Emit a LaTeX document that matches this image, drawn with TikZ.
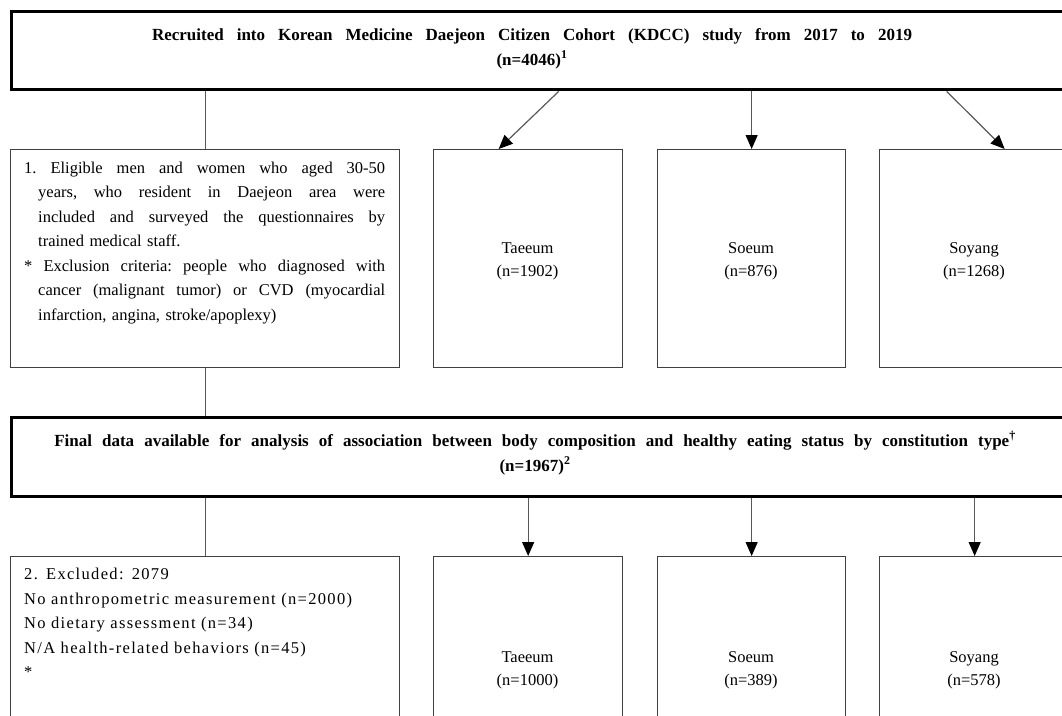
\documentclass[tikz,border=0pt]{standalone}
\usepackage{fontspec}
\setmainfont{Liberation Serif}
\usetikzlibrary{arrows.meta}
\newcommand{\jline}[2]{\makebox[#1][s]{\frenchspacing\spaceskip=0pt\xspaceskip=0pt #2}}
\begin{document}
\begin{tikzpicture}[x=1pt,y=-1pt,
  thickbox/.style={draw=black, line width=3.4pt, inner sep=0pt, anchor=north west},
  thinbox/.style={draw=black!75, line width=1.3pt, inner sep=0pt, anchor=north west, minimum height=218pt},
  conn/.style={draw=black!65, line width=1.2pt},
  arr/.style={conn, -{Triangle[length=14pt,width=12pt,color=black]}},
  hdr/.style={inner sep=0pt, anchor=north, align=center, font=\fontsize{17}{25}\selectfont\bfseries},
  btxt/.style={inner sep=0pt, anchor=north, align=center, font=\fontsize{16.5}{23}\selectfont},
  ltxt/.style={inner sep=0pt, anchor=north west, align=left, font=\fontsize{16.5}{24.5}\selectfont}
]
\useasboundingbox (0,0) rectangle (1062,715);
\clip (0,0) rectangle (1062,715);
\fill[white] (0,0) rectangle (1062,715);

% big boxes
\node[thickbox, minimum width=1090pt, minimum height=78pt] (top) at (10,10) {};
\node[thickbox, minimum width=1090pt, minimum height=79pt] (final) at (10,416) {};

% upper row
\node[thinbox, minimum width=389pt] (b1) at (10,149) {};
\node[thinbox, minimum width=189pt] (t1) at (433,149) {};
\node[thinbox, minimum width=188pt] (s1) at (657,149) {};
\node[thinbox, minimum width=190pt] (y1) at (879,149) {};

% lower row
\node[thinbox, minimum width=389pt] (b2) at (10,556) {};
\node[thinbox, minimum width=189pt] (t2) at (433,556) {};
\node[thinbox, minimum width=188pt] (s2) at (657,556) {};
\node[thinbox, minimum width=190pt] (y2) at (879,556) {};

% header texts
\node[hdr] (toptxt) at (532,22.5) {\strut\jline{760pt}{Recruited into Korean Medicine Daejeon Citizen Cohort (KDCC) study from 2017 to 2019}\\(n=4046)\textsuperscript{1}};
\node[hdr] (finaltxt) at (535,428.5) {\strut\jline{955pt}{Final data available for analysis of association between body composition and healthy eating status by constitution type}\textsuperscript{\textdagger}\\(n=1967)\textsuperscript{2}};

% box texts upper
\node[ltxt, text width=361pt] (b1txt) at (24,156) {%
\strut\jline{361pt}{1. Eligible men and women who aged 30-50}\\
\hspace*{14pt}\jline{347pt}{years, who resident in Daejeon area were}\\
\hspace*{14pt}\jline{347pt}{included and surveyed the questionnaires by}\\
\hspace*{14pt}trained medical staff.\\
\jline{361pt}{* Exclusion criteria: people who diagnosed with}\\
\hspace*{14pt}\jline{347pt}{cancer (malignant tumor) or CVD (myocardial}\\
\hspace*{14pt}infarction, angina, stroke/apoplexy)};
\node[btxt] (t1txt) at (527.5,236.9) {\strut Taeeum\\(n=1902)};
\node[btxt] (s1txt) at (751,236.9) {\strut Soeum\\(n=876)};
\node[btxt] (y1txt) at (974,236.9) {\strut Soyang\\(n=1268)};

% box texts lower
\node[ltxt, text width=370pt, font=\fontsize{16.5}{24.5}\selectfont\addfontfeature{LetterSpace=8}] (b2txt) at (24,562.4) {%
\strut 2. Excluded: 2079\\
No anthropometric measurement (n=2000)\\
No dietary assessment (n=34)\\
N/A health-related behaviors (n=45)\\
{*}};
\node[btxt] (t2txt) at (527.5,645.9) {\strut Taeeum\\(n=1000)};
\node[btxt] (s2txt) at (751,645.9) {\strut Soeum\\(n=389)};
\node[btxt] (y2txt) at (974,645.9) {\strut Soyang\\(n=578)};

% connectors upper
\draw[conn] (b1.north |- top.south) -- (b1.north);
\draw[arr] ([xshift=2pt]top.south) -- ([xshift=-29.5pt]t1.north);
\draw[arr] (s1.north |- top.south) -- (s1.north);
\draw[arr] ([xshift=-28pt]y1.north |- top.south) -- ([xshift=30pt]y1.north);

% connectors middle
\draw[conn] (b1.south) -- (b1.south |- final.north);

% connectors lower
\draw[conn] (b2.north |- final.south) -- (b2.north);
\draw[arr] (t2.north |- final.south) -- (t2.north);
\draw[arr] (s2.north |- final.south) -- (s2.north);
\draw[arr] (y2.north |- final.south) -- (y2.north);
\end{tikzpicture}
\end{document}
